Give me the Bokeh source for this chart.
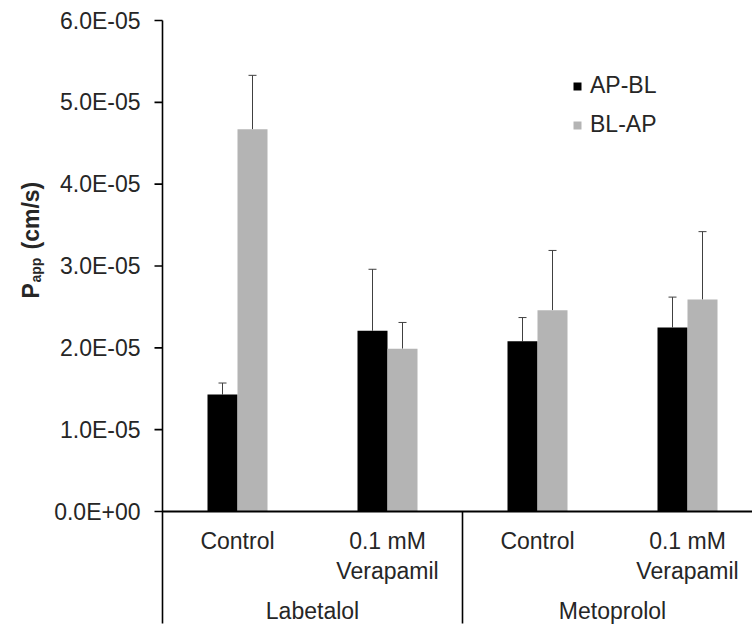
import numpy as np
from bokeh.plotting import figure
from bokeh.models import ColumnDataSource, Range1d, Whisker, TeeHead, Legend, LegendItem
from bokeh.core.properties import value
from bokeh.embed import file_html
from bokeh.resources import INLINE

# ---------------- data ----------------
groups = ["Labetalol", "Metoprolol"]
conditions_line1 = ["Control", "0.1 mM", "Control", "0.1 mM"]
conditions_line2 = ["", "Verapamil", "", "Verapamil"]
series_names = ["AP-BL", "BL-AP"]
ap_bl = [1.43e-5, 2.21e-5, 2.08e-5, 2.25e-5]
ap_bl_err = [0.14e-5, 0.75e-5, 0.29e-5, 0.37e-5]
bl_ap = [4.67e-5, 1.99e-5, 2.46e-5, 2.59e-5]
bl_ap_err = [0.66e-5, 0.32e-5, 0.73e-5, 0.83e-5]
y_ticks = [0, 1e-5, 2e-5, 3e-5, 4e-5, 5e-5, 6e-5]
y_tick_labels = [f"{t:.1E}" for t in y_ticks]

# ---------------- layout (canvas pixels) ----------------
W, H = 752, 625
X0 = 162          # canvas x of the value axis
XS = 150          # pixels per category
Y0 = 511          # canvas y of zero
YTOP = 20         # canvas y of 6E-05
y_max = y_ticks[-1]
px = y_max / (Y0 - YTOP)     # data units per pixel


def dx(canvas_x):
    return (canvas_x - X0) / XS


def dy(px_above_zero):
    return px_above_zero * px


FONT = "Liberation Sans"
TXT = "#262626"
COLORS = ["#000000", "#b4b4b4"]
FS = "23px"

x_lo, x_hi = dx(0), dx(W)
y_lo, y_hi = -(H - Y0) * px, Y0 * px

p = figure(width=W, height=H, output_backend="svg", toolbar_location=None,
           x_range=Range1d(x_lo, x_hi), y_range=Range1d(y_lo, y_hi),
           x_axis_location=None, y_axis_location=None,
           min_border_left=0, min_border_top=0, min_border_right=0, min_border_bottom=0)
p.outline_line_color = None
p.grid.grid_line_color = None
p.background_fill_color = "white"

# value axis: line, ticks, labels
p.segment(x0=[0], y0=[dy(-112)], x1=[0], y1=[y_max], line_color="black", line_width=1.6)
p.segment(x0=[dx(X0 - 8)] * len(y_ticks), y0=y_ticks, x1=[0] * len(y_ticks), y1=y_ticks,
          line_color="black", line_width=1.6)
p.text(x=[dx(140)] * len(y_ticks), y=y_ticks, text=y_tick_labels, text_font=value(FONT),
       text_font_size=FS, text_color=TXT, text_align="right", text_baseline="middle")

# bars
n = len(ap_bl)
centers = np.arange(n) + 0.5
bar_w = 0.2
renderers = []
for k, (vals, errs) in enumerate([(ap_bl, ap_bl_err), (bl_ap, bl_ap_err)]):
    vals = np.array(vals)
    errs = np.array(errs)
    xs = centers + (k - 0.5) * bar_w
    src = ColumnDataSource(dict(x=xs, top=vals, lower=vals, upper=vals + errs))
    r = p.vbar(x="x", top="top", bottom=0, width=bar_w, source=src,
               fill_color=COLORS[k], line_color=None)
    renderers.append(r)
    w = Whisker(base="x", lower="lower", upper="upper", source=src,
                line_color="#404040", line_width=1,
                upper_head=TeeHead(size=8, line_color="#404040", line_width=1),
                lower_head=None)
    p.add_layout(w)

# category baseline
p.segment(x0=[0], y0=[0], x1=[x_hi], y1=[0], line_color="black", line_width=2)

# group separators
per_group = n // len(groups)
bounds = [per_group * i for i in range(1, len(groups))]
p.segment(x0=bounds, y0=[0] * len(bounds), x1=bounds, y1=[dy(-112)] * len(bounds),
          line_color="black", line_width=1.6)

# category labels
p.text(x=centers, y=[dy(-29)] * n, text=conditions_line1, text_font=value(FONT),
       text_font_size=FS, text_color=TXT, text_align="center", text_baseline="middle")
p.text(x=centers, y=[dy(-59)] * n, text=conditions_line2, text_font=value(FONT),
       text_font_size=FS, text_color=TXT, text_align="center", text_baseline="middle")
group_centers = (np.arange(len(groups)) + 0.5) * per_group
p.text(x=group_centers, y=[dy(-99)] * len(groups), text=groups, text_font=value(FONT),
       text_font_size=FS, text_color=TXT, text_align="center", text_baseline="middle")

# legend
legend = Legend(items=[LegendItem(label=series_names[i], renderers=[renderers[i]]) for i in range(2)],
                location=(572, H - 138), orientation="vertical",
                glyph_width=10, glyph_height=10, label_height=26, spacing=12,
                padding=0, margin=0, label_standoff=8,
                label_text_font=FONT, label_text_font_size=FS, label_text_color=TXT,
                border_line_color=None, background_fill_alpha=0)
p.add_layout(legend)

# value-axis title: P_app (cm/s), rotated
title_kw = dict(angle=np.pi / 2, text_font=value(FONT), text_font_style="bold",
                text_align="left", text_baseline="alphabetic", text_color=TXT)
p.text(x=[dx(30)], y=[dy(213)], text=["P"], text_font_size="23px", **title_kw)
p.text(x=[dx(35)], y=[dy(229)], text=["app"], text_font_size="14px", **title_kw)
p.text(x=[dx(30)], y=[dy(262)], text=["(cm/s)"], text_font_size="23px", **title_kw)

open("out.html", "w").write(file_html(p, INLINE))
